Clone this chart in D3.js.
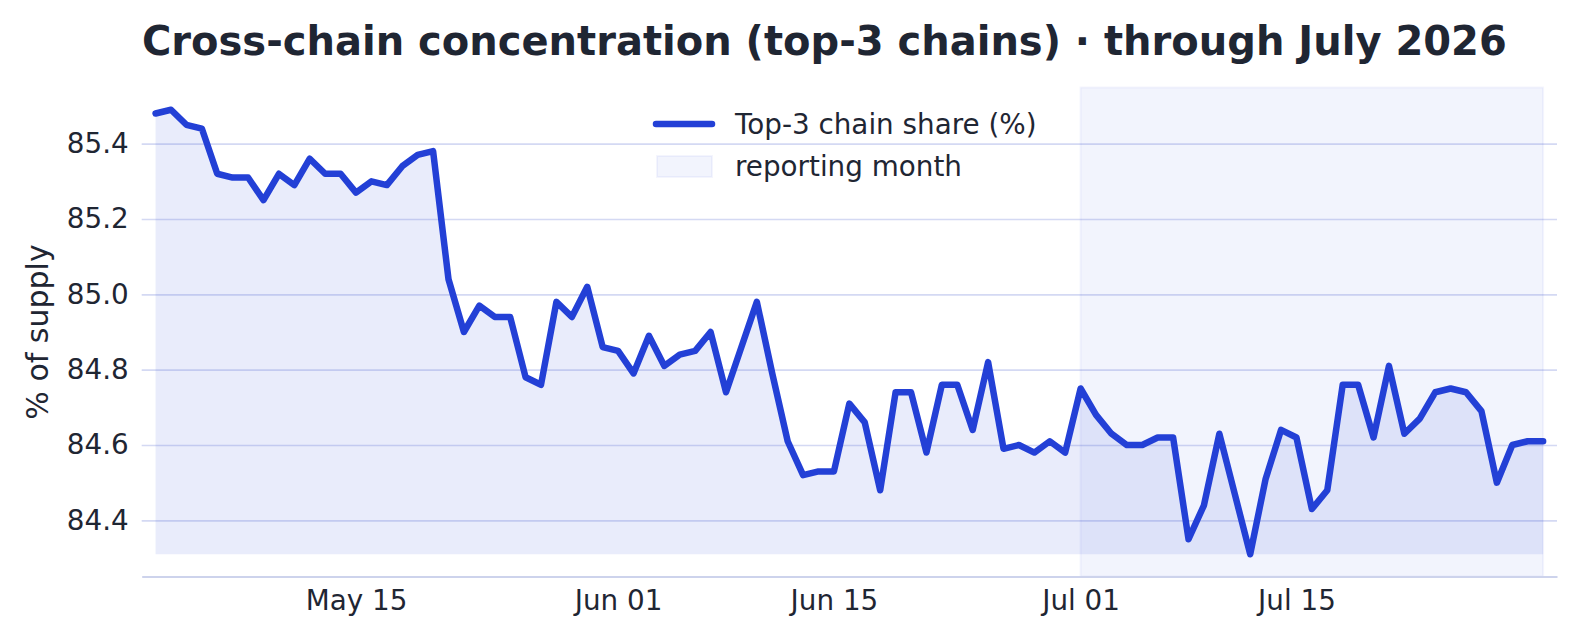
<!DOCTYPE html>
<html>
<head>
<meta charset="utf-8">
<script src="https://cdn.jsdelivr.net/npm/d3@7"></script>
<style>
  html, body { margin: 0; padding: 0; background: #fff; }
  svg { display: block; font-family: "DejaVu Sans", sans-serif; }
</style>
</head>
<body>
<div id="chart"></div>
<script>
// daily top-3 share, May 02 .. Jul 31 2026
var startDay = "2026-05-02";
var endDay = "2026-07-31";
var shareMay = [85.48, 85.49, 85.45, 85.44, 85.32, 85.31, 85.31, 85.25, 85.32, 85.29,
                85.36, 85.32, 85.32, 85.27, 85.30, 85.29, 85.34, 85.37, 85.38, 85.04,
                84.90, 84.97, 84.94, 84.94, 84.78, 84.76, 84.98, 84.94, 85.02, 84.86];
var shareJun = [84.85, 84.79, 84.89, 84.81, 84.84, 84.85, 84.90, 84.74, 84.86, 84.98,
                84.79, 84.61, 84.52, 84.53, 84.53, 84.71, 84.66, 84.48, 84.74, 84.74,
                84.58, 84.76, 84.76, 84.64, 84.82, 84.59, 84.60, 84.58, 84.61, 84.58];
var shareJul = [84.75, 84.68, 84.63, 84.60, 84.60, 84.62, 84.62, 84.35, 84.44, 84.63,
                84.47, 84.31, 84.51, 84.64, 84.62, 84.43, 84.48, 84.76, 84.76, 84.62,
                84.81, 84.63, 84.67, 84.74, 84.75, 84.74, 84.69, 84.50, 84.60, 84.61,
                84.61];
var yTicks = [84.4, 84.6, 84.8, 85.0, 85.2, 85.4];
var xTicks = ["2026-05-15", "2026-06-01", "2026-06-15", "2026-07-01", "2026-07-15"];
var spanStart = "2026-07-01", spanEnd = "2026-07-31";

var parse = d3.utcParse("%Y-%m-%d");
var values = shareMay.concat(shareJun, shareJul);
var days = d3.utcDay.range(parse(startDay), d3.utcDay.offset(parse(endDay), 1));
var data = days.map(function(d, i) { return {date: d, v: values[i]}; });

var width = 1579, height = 641;
var margin = {left: 141.7, right: 1557, top: 87.5, bottom: 576.5};

var blue = "#2340d6";
var ink = "#1f2633";
var tickFont = "27.8px";

var svg = d3.select("#chart").append("svg")
    .attr("width", width)
    .attr("height", height);

// x with 1% padding, y with 5% like matplotlib
var t0 = days[0], t1 = days[days.length - 1];
var padX = (t1 - t0) * 0.01;
var x = d3.scaleUtc()
  .domain([new Date(+t0 - padX), new Date(+t1 + padX)])
  .range([margin.left, margin.right]);

var vmin = d3.min(values), vmax = d3.max(values);
var padY = (vmax - vmin) * 0.05;
var y = d3.scaleLinear()
  .domain([vmin - padY, vmax + padY])
  .range([margin.bottom, margin.top]);

// reporting month band
svg.append("rect")
  .attr("x", x(parse(spanStart)))
  .attr("y", margin.top)
  .attr("width", x(parse(spanEnd)) - x(parse(spanStart)))
  .attr("height", margin.bottom - margin.top)
  .attr("fill", blue)
  .attr("fill-opacity", 0.06)
  .attr("stroke", blue)
  .attr("stroke-opacity", 0.05)
  .attr("stroke-width", 2);

// area under the line, down to the lowest value
var area = d3.area()
  .x(function(d) { return x(d.date); })
  .y0(y(vmin))
  .y1(function(d) { return y(d.v); });

svg.append("path")
  .attr("d", area(data))
  .attr("fill", blue)
  .attr("fill-opacity", 0.1);

// grid
var yAxis = d3.axisLeft(y)
  .tickValues(yTicks)
  .tickSize(-(margin.right - margin.left))
  .tickPadding(13)
  .tickFormat(d3.format(".1f"));

var gy = svg.append("g")
  .attr("transform", "translate(" + margin.left + ",0)")
  .call(yAxis);
gy.select(".domain").remove();
gy.selectAll(".tick line")
  .attr("stroke", "#3c50c8")
  .attr("stroke-opacity", 0.22)
  .attr("stroke-width", 1.6);
gy.selectAll(".tick text")
  .attr("fill", ink)
  .style("font-size", tickFont)
  .style("font-family", "DejaVu Sans");

var xAxis = d3.axisBottom(x)
  .tickValues(xTicks.map(parse))
  .tickSize(0)
  .tickPadding(14)
  .tickFormat(d3.utcFormat("%b %d"));

var gx = svg.append("g")
  .attr("transform", "translate(0," + margin.bottom + ")")
  .call(xAxis);
gx.select(".domain")
  .attr("stroke", "#cdd3ec")
  .attr("stroke-width", 2);
gx.selectAll(".tick text")
  .attr("fill", ink)
  .style("font-size", tickFont)
  .style("font-family", "DejaVu Sans");

// the line
var line = d3.line()
  .x(function(d) { return x(d.date); })
  .y(function(d) { return y(d.v); });

svg.append("path")
  .attr("d", line(data))
  .attr("fill", "none")
  .attr("stroke", blue)
  .attr("stroke-width", 6.5)
  .attr("stroke-linejoin", "round")
  .attr("stroke-linecap", "round");

// title
svg.append("text")
  .attr("x", 142)
  .attr("y", 55)
  .attr("fill", ink)
  .style("font-size", "40px")
  .style("font-weight", "bold")
  .text("Cross-chain concentration (top-3 chains) · through July 2026");

// y label
svg.append("text")
  .attr("transform", "translate(48," + ((margin.top + margin.bottom) / 2) + ") rotate(-90)")
  .attr("text-anchor", "middle")
  .attr("fill", ink)
  .style("font-size", "30px")
  .text("% of supply");

// legend
var lg = svg.append("g");
lg.append("line")
  .attr("x1", 656).attr("x2", 712)
  .attr("y1", 124).attr("y2", 124)
  .attr("stroke", blue)
  .attr("stroke-width", 6.5)
  .attr("stroke-linecap", "round");
lg.append("text")
  .attr("x", 735).attr("y", 124)
  .attr("dy", "0.35em")
  .attr("fill", ink)
  .style("font-size", tickFont)
  .text("Top-3 chain share (%)");
lg.append("rect")
  .attr("x", 657).attr("y", 156)
  .attr("width", 55).attr("height", 21)
  .attr("fill", blue)
  .attr("fill-opacity", 0.06)
  .attr("stroke", blue)
  .attr("stroke-opacity", 0.05)
  .attr("stroke-width", 2);
lg.append("text")
  .attr("x", 735).attr("y", 166)
  .attr("dy", "0.35em")
  .attr("fill", ink)
  .style("font-size", tickFont)
  .text("reporting month");
</script>
</body>
</html>
